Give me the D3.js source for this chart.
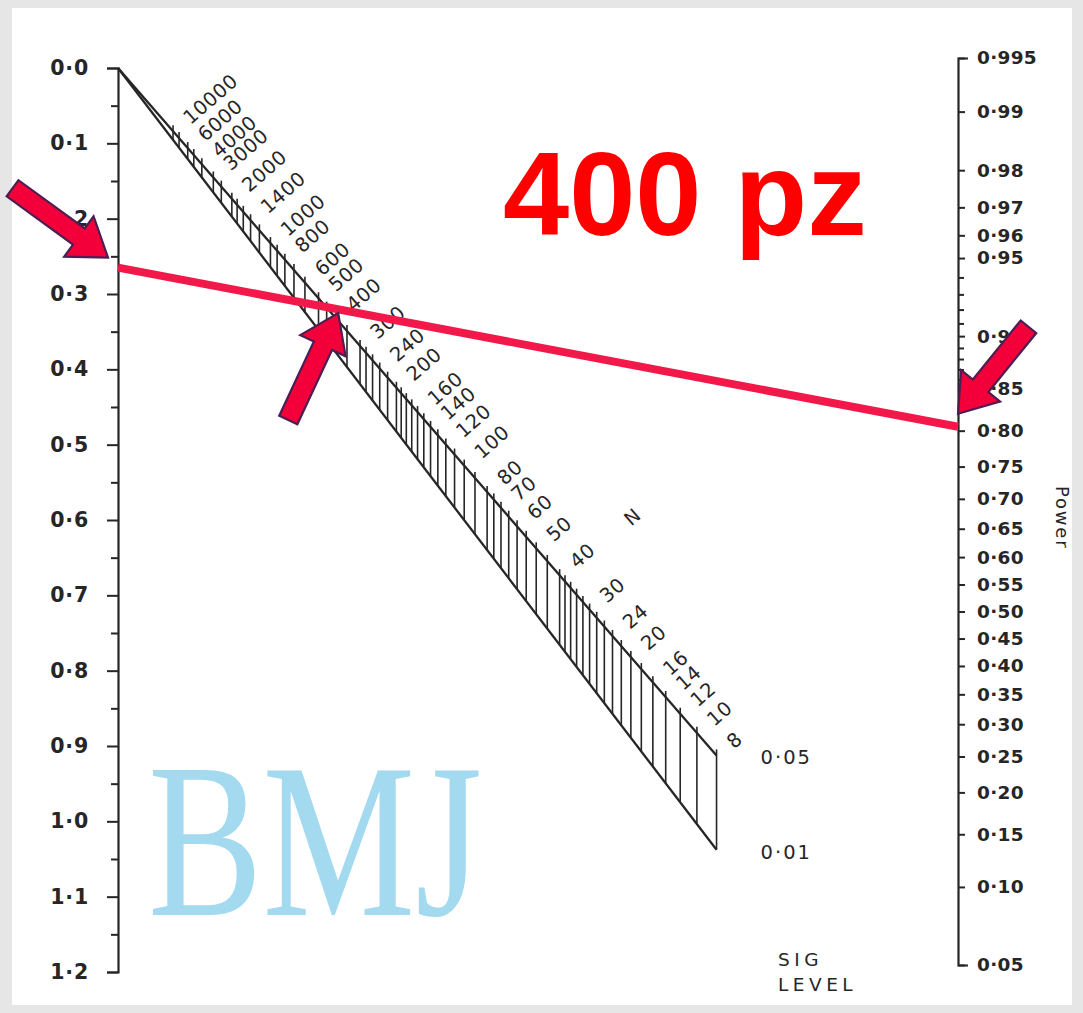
<!DOCTYPE html>
<html>
<head>
<meta charset="utf-8">
<script src="https://cdn.jsdelivr.net/npm/d3@7"></script>
<style>
  body { margin: 0; background: #e6e6e6; }
  svg { display: block; }
</style>
</head>
<body>
<script>
// Altman nomogram: standardised difference, total sample size N, power

// left axis: standardised difference
const deltaTicks = [0, 0.1, 0.2, 0.3, 0.4, 0.5, 0.6, 0.7, 0.8, 0.9, 1.0, 1.1, 1.2];
const deltaMinor = [0.05, 0.15, 0.25, 0.35, 0.45, 0.55, 0.65, 0.75, 0.85, 0.95, 1.05, 1.15];

// right axis: power
const powerTicks = [0.995, 0.99, 0.98, 0.97, 0.96, 0.95, 0.90, 0.85, 0.80, 0.75, 0.70, 0.65,
  0.60, 0.55, 0.50, 0.45, 0.40, 0.35, 0.30, 0.25, 0.20, 0.15, 0.10, 0.05];
const powerMinor = [0.94, 0.93, 0.92, 0.91, 0.89, 0.88, 0.87, 0.86];

// diagonal N scale
const nTicks = [8, 10, 12, 14, 16, 18, 20, 22, 24, 26, 28, 30, 32, 34, 36, 38, 40, 45, 50, 55,
  60, 65, 70, 75, 80, 90, 100, 110, 120, 130, 140, 150, 160, 170, 180, 190, 200, 220, 240,
  260, 280, 300, 350, 400, 450, 500, 600, 700, 800, 900, 1000, 1200, 1400, 1600, 1800,
  2000, 2500, 3000, 4000, 5000, 6000, 8000, 10000];
const nLabels = [8, 10, 12, 14, 16, 20, 24, 30, 40, 50, 60, 70, 80, 100, 120, 140, 160, 200,
  240, 300, 400, 500, 600, 800, 1000, 1400, 2000, 3000, 4000, 6000, 10000];
const sigLevels = [0.05, 0.01];

// worked example drawn over the chart
const exampleDelta = 0.265;
const examplePower = 0.805;
const exampleText = "400 pz";

const width = 1083, height = 1013;
const xL = 118, xR = 958;
const ink = "#262626";
const font = "'DejaVu Sans', sans-serif";

// inverse normal cdf (Acklam)
function probit(p) {
  const a = [-3.969683028665376e+01, 2.209460984245205e+02, -2.759285104469687e+02, 1.383577518672690e+02, -3.066479806614716e+01, 2.506628277459239e+00];
  const b = [-5.447609879822406e+01, 1.615858368580409e+02, -1.556989798598866e+02, 6.680131188771972e+01, -1.328068155288572e+01];
  const c = [-7.784894002430293e-03, -3.223964580411365e-01, -2.400758277161838e+00, -2.549732539343734e+00, 4.374664141464968e+00, 2.938163982698783e+00];
  const d = [7.784695709041462e-03, 3.224671290700398e-01, 2.445134137142996e+00, 3.754408661907416e+00];
  const pl = 0.02425;
  let q, r;
  if (p < pl) {
    q = Math.sqrt(-2 * Math.log(p));
    return (((((c[0]*q+c[1])*q+c[2])*q+c[3])*q+c[4])*q+c[5]) / ((((d[0]*q+d[1])*q+d[2])*q+d[3])*q+1);
  }
  if (p > 1 - pl) {
    q = Math.sqrt(-2 * Math.log(1 - p));
    return -(((((c[0]*q+c[1])*q+c[2])*q+c[3])*q+c[4])*q+c[5]) / ((((d[0]*q+d[1])*q+d[2])*q+d[3])*q+1);
  }
  q = p - 0.5; r = q * q;
  return (((((a[0]*r+a[1])*r+a[2])*r+a[3])*r+a[4])*r+a[5])*q / (((((b[0]*r+b[1])*r+b[2])*r+b[3])*r+b[4])*r+1);
}

const yDelta = d3.scaleLinear().domain([0, 1.2]).range([68, 972]);
const yZ = d3.scaleLinear().domain([probit(0.05), probit(0.995)]).range([965, 58]);

const A = yDelta(1) - yDelta(0);
const B = yZ(0) - yZ(1);
// point of the N scale for a given significance level
function nPoint(n, alpha) {
  const t = A / (A + B * Math.sqrt(n) / 2);
  const za = probit(1 - alpha / 2);
  return [xL + t * (xR - xL), (1 - t) * yDelta(0) + t * yZ(-za)];
}

const dot = s => s.replace(".", "·");

const svg = d3.select("body").append("svg")
  .attr("width", width).attr("height", height);

svg.append("rect").attr("width", width).attr("height", height).attr("fill", "#e6e6e6");
svg.append("rect").attr("x", 12).attr("y", 8).attr("width", 1060).attr("height", 997).attr("fill", "#fff");

// watermark
svg.append("text")
  .attr("x", 148).attr("y", 915)
  .attr("textLength", 334).attr("lengthAdjust", "spacingAndGlyphs")
  .attr("font-family", "'Liberation Serif', 'DejaVu Serif', serif")
  .attr("font-size", 220)
  .attr("fill", "#a3daf0")
  .text("BMJ");

// left axis
const leftMinor = svg.append("g").attr("transform", `translate(${xL},0)`)
  .call(d3.axisLeft(yDelta).tickValues(deltaMinor).tickSize(7).tickFormat(""));
leftMinor.select(".domain").remove();

const leftAxis = svg.append("g").attr("transform", `translate(${xL},0)`)
  .call(d3.axisLeft(yDelta).tickValues(deltaTicks).tickSize(11).tickSizeOuter(11)
    .tickPadding(18).tickFormat(d => dot(d3.format(".1f")(d))));

// right axis
const rightMinor = svg.append("g").attr("transform", `translate(${xR},0)`)
  .call(d3.axisRight(yZ).tickValues(powerMinor.map(probit)).tickSize(6).tickFormat(""));
rightMinor.select(".domain").remove();

const rightAxis = svg.append("g").attr("transform", `translate(${xR},0)`)
  .call(d3.axisRight(yZ).tickValues(powerTicks.map(probit)).tickSize(7).tickSizeOuter(10)
    .tickPadding(12).tickFormat((d, i) => dot(d3.format(powerTicks[i] === 0.995 ? ".3f" : ".2f")(powerTicks[i]))));

[leftAxis, leftMinor, rightAxis, rightMinor].forEach(g => {
  g.selectAll("line").attr("stroke", ink).attr("stroke-width", 2);
  g.select(".domain").attr("stroke", ink).attr("stroke-width", 2.2);
});
leftAxis.selectAll("text").attr("font-family", font).attr("font-weight", "bold")
  .attr("font-size", 20.5).attr("fill", ink).attr("letter-spacing", 0.8);
rightAxis.selectAll("text").attr("font-family", font).attr("font-weight", "bold")
  .attr("font-size", 18.5).attr("fill", ink).attr("letter-spacing", 0.3);

// N scale
const apex = [xL, yDelta(0)];
const nG = svg.append("g");
nG.selectAll("line.hatch").data(nTicks).join("line")
  .attr("class", "hatch")
  .attr("x1", d => nPoint(d, 0.05)[0]).attr("x2", d => nPoint(d, 0.05)[0])
  .attr("y1", d => nPoint(d, 0.05)[1] - 6).attr("y2", d => nPoint(d, 0.01)[1])
  .attr("stroke", ink).attr("stroke-width", 1.6);

nG.selectAll("path.sig").data(sigLevels).join("path")
  .attr("class", "sig")
  .attr("d", a => d3.line()([apex, nPoint(8, a)]))
  .attr("fill", "none").attr("stroke", ink).attr("stroke-width", 2.3);

const p8 = nPoint(8, 0.05);
const theta = Math.atan2(p8[1] - apex[1], p8[0] - apex[0]);
const ux = Math.sin(theta), uy = -Math.cos(theta);
const rot = theta * 180 / Math.PI - 90;

nG.selectAll("text.nlab").data(nLabels).join("text")
  .attr("class", "nlab")
  .attr("transform", d => {
    const p = nPoint(d, 0.05);
    return `translate(${p[0] + ux * 17},${p[1] + uy * 17}) rotate(${rot})`;
  })
  .attr("dy", "0.36em")
  .attr("font-family", font).attr("font-size", 19.5).attr("letter-spacing", 0.5).attr("fill", ink)
  .text(d => d);

svg.append("text")
  .attr("transform", `translate(632,517) rotate(${rot})`)
  .attr("text-anchor", "middle").attr("dy", "0.36em")
  .attr("font-family", font).attr("font-size", 19).attr("fill", ink)
  .text("N");

// sig level labels
svg.selectAll("text.sig").data(sigLevels).join("text")
  .attr("class", "sig")
  .attr("x", d => nPoint(8, d)[0] + 44).attr("y", d => nPoint(8, d)[1] + 9)
  .attr("font-family", font).attr("font-size", 19.5).attr("letter-spacing", 2).attr("fill", ink)
  .text(d => dot(d3.format(".2f")(d)));

svg.append("text").attr("x", 778).attr("y", 966)
  .attr("font-family", font).attr("font-size", 18.5).attr("letter-spacing", 4.5).attr("fill", ink)
  .text("SIG");
svg.append("text").attr("x", 778).attr("y", 991)
  .attr("font-family", font).attr("font-size", 18.5).attr("letter-spacing", 4.5).attr("fill", ink)
  .text("LEVEL");

svg.append("text")
  .attr("transform", "translate(1056,486) rotate(90)")
  .attr("font-family", font).attr("font-size", 18).attr("letter-spacing", 1.8).attr("fill", ink)
  .text("Power");

// annotation
svg.append("text")
  .attr("x", 503).attr("y", 235)
  .attr("font-family", "'Liberation Sans', Arial, sans-serif").attr("font-weight", "bold")
  .attr("font-size", 119).attr("fill", "#ff0000")
  .text(exampleText);

const pL = [xL, yDelta(exampleDelta)];
const pR = [xR, yZ(probit(examplePower))];
svg.append("path")
  .attr("d", d3.line()([pL, pR]))
  .attr("stroke", "#f2184a").attr("stroke-width", 8).attr("fill", "none");

// crossing of the example line with the 0.05 N line
const m1 = (pR[1] - pL[1]) / (pR[0] - pL[0]);
const m2 = Math.tan(theta);
const cx = xL + (pL[1] - apex[1]) / (m2 - m1);
const cross = [cx, apex[1] + m2 * (cx - xL)];

function arrow(tip, angle, len) {
  const hl = 36, hw = 25, sw = 10;
  const pts = [[0, 0], [-hl, -hw], [-hl, -sw], [-len, -sw], [-len, sw], [-hl, sw], [-hl, hw]];
  svg.append("polygon")
    .attr("points", pts.map(p => p.join(",")).join(" "))
    .attr("transform", `translate(${tip[0]},${tip[1]}) rotate(${angle})`)
    .attr("fill", "#f3003a").attr("stroke", "#4e1d52").attr("stroke-width", 2.2)
    .attr("stroke-linejoin", "miter");
}
arrow([pL[0] - 10, pL[1] - 10], 36, 118);
arrow([cross[0] + 12, cross[1] + 6], -65, 118);
arrow([pR[0], pR[1] - 13], 129, 112);
</script>
</body>
</html>
